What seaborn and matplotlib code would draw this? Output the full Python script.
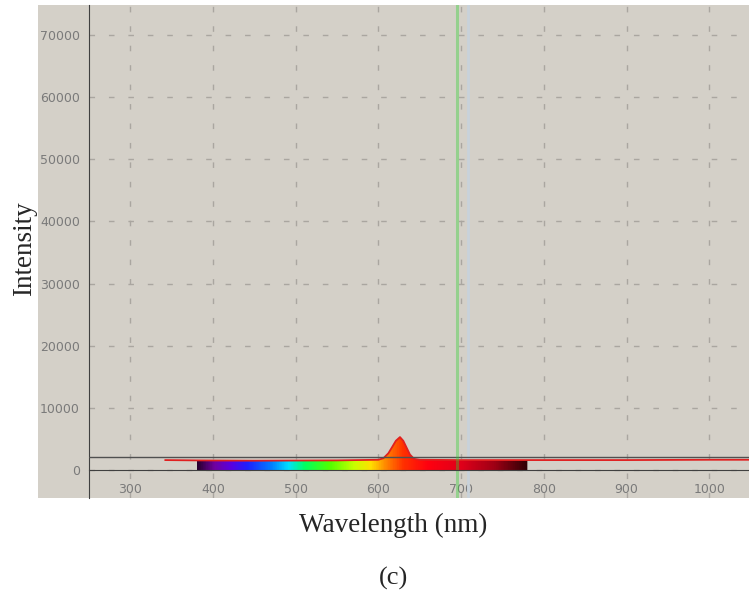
import matplotlib
matplotlib.use("Agg")
import matplotlib.pyplot as plt
import seaborn as sns
import numpy as np
from matplotlib.colors import LinearSegmentedColormap
from matplotlib.patches import Rectangle

# spectrum
wavelength = [342, 380, 450, 550, 600, 606, 612, 617, 621, 626, 630, 634,
              638, 643, 650, 700, 780, 800, 900, 1000, 1048]
intensity = [1600, 1550, 1500, 1550, 1650, 1900, 2700, 3800, 4700, 5300, 4700,
             3600, 2500, 1800, 1650, 1600, 1600, 1600, 1600, 1650, 1650]

threshold_level = 2100      # dark horizontal line
marker_wl = 695             # green cursor line
marker2_wl = 708            # faint second cursor
visible_range = (380, 780)

x_ticks = [300, 400, 500, 600, 700, 800, 900, 1000]
y_ticks = [0, 10000, 20000, 30000, 40000, 50000, 60000, 70000]

panel = "#d4d0c8"

sns.set_style("white")
plt.rcParams["font.family"] = ["DejaVu Sans"]

fig = plt.figure(figsize=(7.49, 5.96), dpi=100)
W, H = 749, 596

# gray panel behind the plot and tick labels
fig.patches.append(Rectangle((38 / W, (H - 498) / H), 711 / W, 493 / H,
                             transform=fig.transFigure, facecolor=panel,
                             edgecolor="none", zorder=-10))

ax = fig.add_axes([89 / W, (H - 498) / H, 660 / W, 493 / H])
ax.set_facecolor(panel)

# rainbow fill under the curve, visible range only
spec_colors = [(380, "#2a0030"), (400, "#7000a0"), (420, "#5a00e0"),
               (440, "#2020ff"), (470, "#0080ff"), (490, "#00e0ff"),
               (510, "#00ff60"), (540, "#50ff00"), (570, "#c8ff00"),
               (590, "#ffe000"), (610, "#ff8000"), (630, "#ff3000"),
               (660, "#ff0010"), (700, "#e0001a"), (740, "#a00015"),
               (780, "#300005")]
lo, hi = visible_range
cmap = LinearSegmentedColormap.from_list(
    "spec", [((w - lo) / (hi - lo), c) for w, c in spec_colors])

wl = np.array(wavelength)
it = np.array(intensity)
mask = (wl >= lo) & (wl <= hi)
poly = ax.fill_between(wl, it, 0, where=mask, color="none", lw=0)
grad = np.linspace(0, 1, 400)[None, :]
im = ax.imshow(grad, extent=(lo, hi, 0, 6000), aspect="auto", cmap=cmap,
               origin="lower", zorder=2)
im.set_clip_path(poly.get_paths()[0], transform=ax.transData)

sns.lineplot(x=wavelength, y=intensity, ax=ax, color="#e02020", lw=1.3,
             zorder=3)
ax.axhline(threshold_level, color="#505050", lw=1, zorder=3)

ax.axvline(marker2_wl, color="#c8d2da", lw=2, zorder=1.5)
ax.axvline(marker_wl, color="#30d030", lw=2.2, alpha=0.38, zorder=4)

ax.set_xlim(250, 1048)
ax.set_ylim(-4500, 74800)

ax.set_xticks(x_ticks)
ax.set_xticks(np.arange(250, 1050, 50), minor=True)
ax.set_yticks(y_ticks)
ax.set_yticks(np.arange(0, 75000, 5000), minor=True)
ax.set_yticklabels([str(v) for v in y_ticks])

ax.grid(True, which="major", color="#aaa6a0", lw=1, linestyle=(0, (4, 10)))
ax.set_axisbelow(True)

for s in ["top", "right"]:
    ax.spines[s].set_visible(False)
ax.spines["bottom"].set_position(("data", 0))
ax.spines["bottom"].set_color("#404040")
ax.spines["left"].set_color("#404040")
ax.spines["bottom"].set_zorder(5)

ax.tick_params(axis="both", which="major", direction="inout", length=7,
               width=1, color="#404040", labelcolor="#7a7a7a", labelsize=9)
ax.tick_params(axis="both", which="minor", direction="inout", length=4,
               width=1, color="#404040")
ax.tick_params(axis="x", pad=6)
ax.tick_params(axis="y", pad=3)

fig.text(393 / W, 1 - 525 / H, "Wavelength (nm)", ha="center", va="center",
         family="Liberation Serif", fontsize=19.5)
fig.text(25 / W, 1 - 249 / H, "Intensity", ha="center", va="center",
         rotation=90, family="Liberation Serif", fontsize=19.5)
fig.text(393 / W, 1 - 578 / H, "(c)", ha="center", va="center",
         family="Liberation Serif", fontsize=19)

fig.savefig("out.png", dpi=100)
